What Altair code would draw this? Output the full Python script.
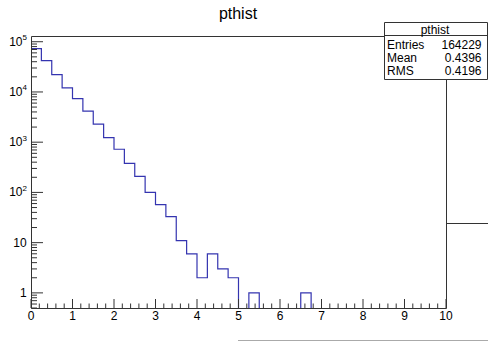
import altair as alt
import pandas as pd
import numpy as np

# ---------------- data ----------------
title_text = "pthist"
bin_edges_start = 0.0
bin_width = 0.25
counts = [72600, 42100, 22200, 12050, 7350, 4170, 2290, 1236, 724, 380,
          209, 100, 57, 33, 11, 6, 2, 6, 3, 2,
          0, 1, 0, 0, 0, 0, 1, 0, 0, 0,
          0, 0, 0, 0, 0, 0, 0, 0, 0, 0]
x_tick_labels = ["0", "1", "2", "3", "4", "5", "6", "7", "8", "9", "10"]
y_plain_decades = [1, 10]
y_plain_labels = ["1", "10"]
y_exp_decades = [100, 1000, 10000, 100000]
y_exp_labels = ["2", "3", "4", "5"]
stats_names = ["Entries", "Mean", "RMS"]
stats_values = ["164229", "0.4396", "0.4196"]

# ---------------- layout ----------------
W, H = 415, 272
PAD_L, PAD_T = 31, 36
FONT = "Liberation Sans"
AXIS_COL = "#333333"
LINE_COL = "#3434b0"
x_dom = [0, 10]
y_dom = [0.5, 1.3e5]

xs = alt.Scale(domain=x_dom, nice=False, zero=False)
ys = alt.Scale(type="log", domain=y_dom, nice=False)

# histogram step line (zero bins dropped below the visible range, clipped)
edges = [bin_edges_start + i * bin_width for i in range(len(counts) + 1)]
vals = [c if c > 0 else 0.2 for c in counts]
vals = vals + [vals[-1]]
hist_df = pd.DataFrame({"x": edges, "y": vals})

hist = alt.Chart(hist_df).mark_line(
    interpolate="step-after", color=LINE_COL, strokeWidth=1.2, clip=True
).encode(
    x=alt.X("x:Q", scale=xs, axis=None),
    y=alt.Y("y:Q", scale=ys, axis=None),
)

one = pd.DataFrame({"a": [0]})

# x ticks
x_major = [float(v) for v in x_tick_labels]
x_minor = [round(i * 0.2, 2) for i in range(51) if i % 5 != 0]
xmaj = alt.Chart(pd.DataFrame({"x": x_major})).mark_rule(color=AXIS_COL, strokeWidth=1).encode(
    x=alt.X("x:Q", scale=xs, axis=None), y=alt.value(H), y2=alt.value(H - 9))
xmin = alt.Chart(pd.DataFrame({"x": x_minor})).mark_rule(color=AXIS_COL, strokeWidth=1).encode(
    x=alt.X("x:Q", scale=xs, axis=None), y=alt.value(H), y2=alt.value(H - 4.5))
xlab = alt.Chart(pd.DataFrame({"x": x_major, "t": x_tick_labels})).mark_text(
    font=FONT, fontSize=12, baseline="alphabetic", align="center", color="#000000", dy=0
).encode(x=alt.X("x:Q", scale=xs, axis=None), y=alt.value(H + 11.5), text="t:N")

# y ticks
y_major = y_plain_decades + y_exp_decades
y_minor = []
for n in range(-1, 6):
    for k in range(2, 10):
        v = k * 10.0 ** n
        if y_dom[0] <= v <= y_dom[1]:
            y_minor.append(v)
ymaj = alt.Chart(pd.DataFrame({"y": y_major})).mark_rule(color=AXIS_COL, strokeWidth=1).encode(
    y=alt.Y("y:Q", scale=ys, axis=None), x=alt.value(0), x2=alt.value(12))
ymin = alt.Chart(pd.DataFrame({"y": y_minor})).mark_rule(color=AXIS_COL, strokeWidth=1).encode(
    y=alt.Y("y:Q", scale=ys, axis=None), x=alt.value(0), x2=alt.value(6))

ylab_plain = alt.Chart(pd.DataFrame({"y": y_plain_decades, "t": y_plain_labels})).mark_text(
    font=FONT, fontSize=12, align="right", baseline="middle", color="#000000"
).encode(y=alt.Y("y:Q", scale=ys, axis=None), x=alt.value(-4.3), text="t:N")
ylab_base = alt.Chart(pd.DataFrame({"y": y_exp_decades, "t": ["10"] * len(y_exp_decades)})).mark_text(
    font=FONT, fontSize=12, align="right", baseline="middle", color="#000000"
).encode(y=alt.Y("y:Q", scale=ys, axis=None), x=alt.value(-8.5), text="t:N")
ylab_exp = alt.Chart(pd.DataFrame({"y": y_exp_decades, "t": y_exp_labels})).mark_text(
    font=FONT, fontSize=8, align="left", baseline="middle", color="#000000", dy=-3.5
).encode(y=alt.Y("y:Q", scale=ys, axis=None), x=alt.value(-8.6), text="t:N")

# frame
frame = alt.Chart(one).mark_rect(fill="white", fillOpacity=0, stroke=AXIS_COL, strokeWidth=1).encode(
    x=alt.value(0.5), x2=alt.value(W + 0.5), y=alt.value(0.5), y2=alt.value(H + 0.5))

# title
title = alt.Chart(one).mark_text(font=FONT, fontSize=16, align="center", baseline="middle",
                                 color="#000000").encode(
    x=alt.value(238 - PAD_L), y=alt.value(14 - PAD_T), text=alt.value(title_text))

# stats box
bx0, bx1 = 384.5 - PAD_L, 487.5 - PAD_L
by0, by1 = 22.5 - PAD_T, 79.5 - PAD_T
sbox = alt.Chart(one).mark_rect(fill="white", stroke=AXIS_COL, strokeWidth=1).encode(
    x=alt.value(bx0), x2=alt.value(bx1), y=alt.value(by0), y2=alt.value(by1))
ssep = alt.Chart(one).mark_rule(color=AXIS_COL, strokeWidth=1).encode(
    x=alt.value(bx0), x2=alt.value(bx1), y=alt.value(35.5 - PAD_T))
shead = alt.Chart(one).mark_text(font=FONT, fontSize=12, align="center", baseline="middle",
                                 color="#000000").encode(
    x=alt.value(435 - PAD_L), y=alt.value(29.5 - PAD_T), text=alt.value(title_text))
stat_layers = []
row_y = [45, 58, 71]
for name, val, yy in zip(stats_names, stats_values, row_y):
    stat_layers.append(alt.Chart(one).mark_text(font=FONT, fontSize=12, align="left", baseline="middle",
                                                color="#000000").encode(
        x=alt.value(387 - PAD_L), y=alt.value(yy - PAD_T), text=alt.value(name)))
    stat_layers.append(alt.Chart(one).mark_text(font=FONT, fontSize=12, align="right", baseline="middle",
                                                color="#000000").encode(
        x=alt.value(481.5 - PAD_L), y=alt.value(yy - PAD_T), text=alt.value(val)))

# extra canvas lines visible in the reference
side_line = alt.Chart(one).mark_rule(color=AXIS_COL, strokeWidth=1).encode(
    x=alt.value(W + 0.5), x2=alt.value(488 - PAD_L), y=alt.value(223.5 - PAD_T))
bottom_line = alt.Chart(one).mark_rule(color="#aaaaaa", strokeWidth=1).encode(
    x=alt.value(238 - PAD_L), x2=alt.value(488 - PAD_L), y=alt.value(340.5 - PAD_T))

chart = alt.layer(
    hist, xmin, xmaj, ymin, ymaj, frame, xlab, ylab_plain, ylab_base, ylab_exp,
    title, side_line, bottom_line, sbox, ssep, shead, *stat_layers
).properties(
    width=W, height=H,
    autosize=alt.AutoSizeParams(type="none"),
    padding={"left": PAD_L, "top": PAD_T, "right": 488 - PAD_L - W, "bottom": 341 - PAD_T - H},
    background="white",
).configure_view(strokeWidth=0)

chart.save("out.html", embed_options={"renderer": "svg", "actions": False})
